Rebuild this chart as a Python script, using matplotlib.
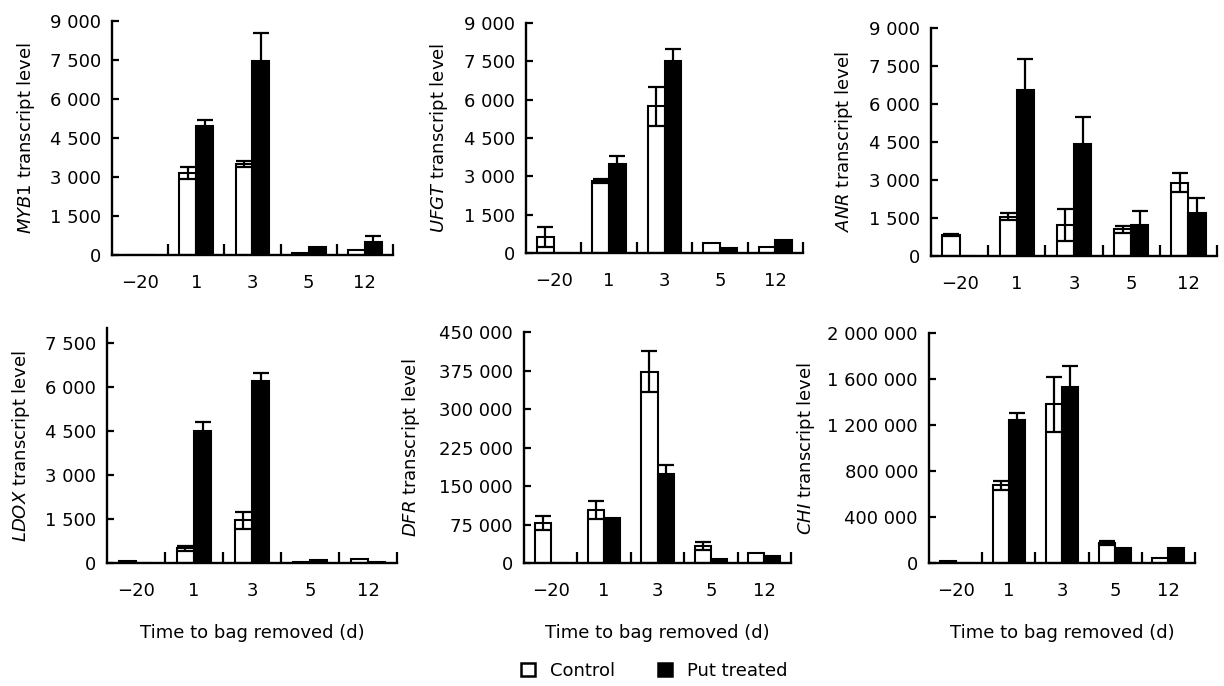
import matplotlib
matplotlib.use('Agg')
import matplotlib.pyplot as plt
import numpy as np
from matplotlib.patches import Patch

plt.rcParams['font.family'] = ['DejaVu Sans']
plt.rcParams['mathtext.fontset'] = 'custom'
plt.rcParams['mathtext.it'] = 'DejaVu Sans:italic'
plt.rcParams['mathtext.rm'] = 'DejaVu Sans'
FS = 13

# ---------------- data ----------------
categories = ['\u221220', '1', '3', '5', '12']

myb1_ctrl = [0, 3150, 3500, 60, 180]
myb1_ctrl_err = [0, 230, 100, 0, 0]
myb1_put = [0, 4950, 7450, 320, 500]
myb1_put_err = [0, 240, 1100, 0, 230]

ufgt_ctrl = [620, 2800, 5740, 390, 230]
ufgt_ctrl_err = [390, 80, 760, 0, 0]
ufgt_put = [0, 3500, 7500, 190, 500]
ufgt_put_err = [0, 290, 470, 0, 0]

anr_ctrl = [830, 1550, 1220, 1050, 2900]
anr_ctrl_err = [50, 130, 620, 130, 380]
anr_put = [0, 6550, 4420, 1220, 1710]
anr_put_err = [0, 1240, 1070, 560, 560]

ldox_ctrl = [60, 500, 1450, 40, 120]
ldox_ctrl_err = [0, 80, 280, 0, 0]
ldox_put = [0, 4490, 6200, 90, 50]
ldox_put_err = [0, 320, 260, 0, 0]

dfr_ctrl = [77700, 103000, 373000, 33000, 19000]
dfr_ctrl_err = [14000, 18000, 40000, 7000, 0]
dfr_put = [0, 87000, 173000, 8000, 13000]
dfr_put_err = [0, 0, 17000, 0, 0]

chi_ctrl = [15000, 677000, 1381000, 175000, 45000]
chi_ctrl_err = [0, 40000, 240000, 15000, 0]
chi_put = [0, 1244000, 1529000, 134000, 131000]
chi_put_err = [0, 58000, 180000, 0, 0]

yticks_9000 = [0, 1500, 3000, 4500, 6000, 7500, 9000]
yticklabels_9000 = ['0', '1 500', '3 000', '4 500', '6 000', '7 500', '9 000']
yticks_7500 = [0, 1500, 3000, 4500, 6000, 7500]
yticklabels_7500 = ['0', '1 500', '3 000', '4 500', '6 000', '7 500']
yticks_dfr = [0, 75000, 150000, 225000, 300000, 375000, 450000]
yticklabels_dfr = ['0', '75 000', '150 000', '225 000', '300 000', '375 000', '450 000']
yticks_chi = [0, 400000, 800000, 1200000, 1600000, 2000000]
yticklabels_chi = ['0', '400 000', '800 000', '1 200 000', '1 600 000', '2 000 000']

genes = ['MYB1', 'UFGT', 'ANR', 'LDOX', 'DFR', 'CHI']
xlabel_text = 'Time to bag removed (d)'
legend_labels = ['Control', 'Put treated']

panels = [
    (genes[0], myb1_ctrl, myb1_ctrl_err, myb1_put, myb1_put_err, yticks_9000, yticklabels_9000, 9000),
    (genes[1], ufgt_ctrl, ufgt_ctrl_err, ufgt_put, ufgt_put_err, yticks_9000, yticklabels_9000, 9000),
    (genes[2], anr_ctrl, anr_ctrl_err, anr_put, anr_put_err, yticks_9000, yticklabels_9000, 9000),
    (genes[3], ldox_ctrl, ldox_ctrl_err, ldox_put, ldox_put_err, yticks_7500, yticklabels_7500, 8000),
    (genes[4], dfr_ctrl, dfr_ctrl_err, dfr_put, dfr_put_err, yticks_dfr, yticklabels_dfr, 450000),
    (genes[5], chi_ctrl, chi_ctrl_err, chi_put, chi_put_err, yticks_chi, yticklabels_chi, 2000000),
]

# ---------------- layout ----------------
W, H = 1224, 686
boxes_px = [  # left, right, top, bottom in pixels
    (112, 393, 21, 255),
    (526, 803, 23, 253),
    (931, 1217, 28, 256),
    (107, 397, 328, 563),
    (524, 791, 332, 563),
    (929, 1195, 333, 563),
]
ylabel_right_px = [37, 450, 855, 32, 422, 817]

fig = plt.figure(figsize=(W / 100, H / 100), dpi=100)

for i, (gene, c, ce, p, pe, yt, ytl, ymax) in enumerate(panels):
    l, r, t, b = boxes_px[i]
    ax = fig.add_axes([l / W, 1 - b / H, (r - l) / W, (b - t) / H])
    x = np.arange(len(categories))
    w = 0.3
    ax.bar(x - w / 2, c, w, color='white', edgecolor='black', linewidth=1.5, zorder=2)
    ax.bar(x + w / 2, p, w, color='black', edgecolor='black', linewidth=1.5, zorder=2)
    ce_a = np.array(ce, float)
    pe_a = np.array(pe, float)
    mc = ce_a > 0
    mp = pe_a > 0
    ekw = dict(fmt='none', ecolor='black', elinewidth=1.6, capsize=5.5, capthick=1.6, zorder=3)
    if mc.any():
        ax.errorbar((x - w / 2)[mc], np.array(c, float)[mc], yerr=ce_a[mc], **ekw)
    if mp.any():
        ax.errorbar((x + w / 2)[mp], np.array(p, float)[mp], yerr=pe_a[mp], **ekw)

    ax.set_xlim(-0.5, 4.5)
    ax.set_ylim(0, ymax)
    for s in ['top', 'right']:
        ax.spines[s].set_visible(False)
    for s in ['left', 'bottom']:
        ax.spines[s].set_linewidth(1.7)
    ax.set_xticks(x)
    ax.set_xticklabels(categories, fontsize=FS)
    ax.set_xticks(np.arange(0.5, 5, 1), minor=True)
    ax.tick_params(axis='x', which='major', length=0, pad=14)
    ax.tick_params(axis='x', which='minor', direction='in', length=8, width=1.6)
    ax.set_yticks(yt)
    ax.set_yticklabels(ytl, fontsize=FS)
    ax.tick_params(axis='y', direction='in', length=5, width=1.6, pad=8)
    ax.set_ylabel(r'$\mathit{' + gene + r'}$ transcript level', fontsize=FS)
    ax.yaxis.set_label_coords((ylabel_right_px[i] - l) / (r - l), 0.5)
    if i >= 3:
        ax.set_xlabel(xlabel_text, fontsize=FS, va='top')
        ax.xaxis.set_label_coords(0.5, (b - 624) / (b - t))

handles = [Patch(facecolor='white', edgecolor='black', linewidth=1.8),
           Patch(facecolor='black', edgecolor='black', linewidth=1.8)]
fig.legend(handles, legend_labels, loc='center', bbox_to_anchor=(654 / W, 1 - 671 / H),
           ncol=2, frameon=False, fontsize=FS, handlelength=0.8, handleheight=0.7,
           handletextpad=0.8, columnspacing=2.4, borderpad=0, borderaxespad=0)

fig.savefig('out.png', dpi=100)
